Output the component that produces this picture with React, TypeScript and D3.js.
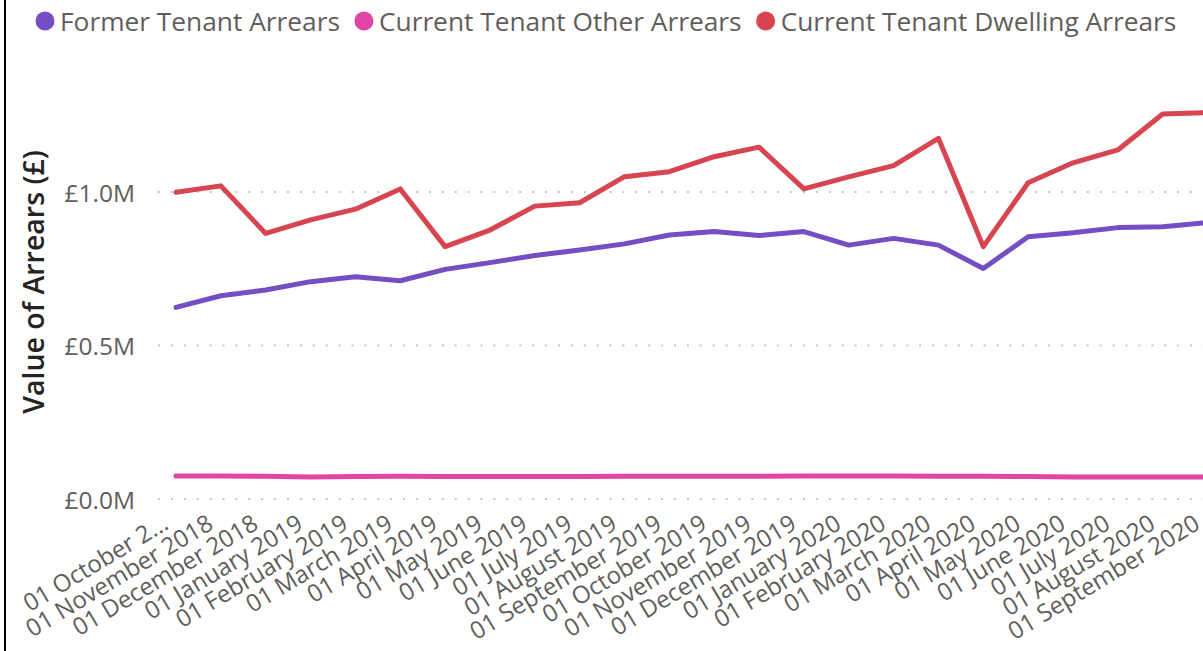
import React, { useEffect, useRef } from "react";
import * as d3 from "d3";

const months: string[] = [
  "01 October 2018", "01 November 2018", "01 December 2018",
  "01 January 2019", "01 February 2019", "01 March 2019", "01 April 2019",
  "01 May 2019", "01 June 2019", "01 July 2019", "01 August 2019",
  "01 September 2019", "01 October 2019", "01 November 2019", "01 December 2019",
  "01 January 2020", "01 February 2020", "01 March 2020", "01 April 2020",
  "01 May 2020", "01 June 2020", "01 July 2020", "01 August 2020", "01 September 2020",
];

const formerTenant: number[] = [
  624000, 662000, 681000, 708000, 724000, 711000, 748000, 770000, 793000, 811000,
  831000, 860000, 871000, 858000, 871000, 827000, 849000, 827000, 751000, 854000,
  867000, 884000, 887000, 900000,
];

const currentOther: number[] = [
  75000, 75000, 74000, 72000, 73000, 74000, 73000, 73000, 73000, 73000,
  74000, 74000, 74000, 74000, 75000, 75000, 75000, 74000, 74000, 73000,
  72000, 72000, 72000, 72000,
];

const currentDwelling: number[] = [
  999000, 1020000, 865000, 909000, 944000, 1010000, 822000, 876000, 954000, 965000,
  1050000, 1066000, 1115000, 1146000, 1010000, 1049000, 1086000, 1175000, 822000, 1030000,
  1095000, 1137000, 1254000, 1259000,
];

const seriesNames: string[] = [
  "Former Tenant Arrears",
  "Current Tenant Other Arrears",
  "Current Tenant Dwelling Arrears",
];
const seriesColors: string[] = ["#744EC2", "#E044A7", "#D64550"];
const yTicks: number[] = [0, 500000, 1000000];
const yTitle = "Value of Arrears (£)";

const W = 1203;
const H = 651;
const FONT = "'Segoe UI', 'Open Sans', sans-serif";

export default function App() {
  const ref = useRef<SVGSVGElement | null>(null);

  useEffect(() => {
    const svg = d3.select(ref.current);
    svg.selectAll("*").remove();

    const step = 44.85;
    const x = d3
      .scalePoint<string>()
      .domain(months)
      .range([176, 176 + step * (months.length - 1)]);
    const y = d3.scaleLinear().domain([0, 1000000]).range([499, 192]);

    // gridlines
    const grid = svg.append("g");
    yTicks.forEach((t) => {
      grid
        .append("line")
        .attr("x1", 158)
        .attr("x2", W + 20)
        .attr("y1", y(t))
        .attr("y2", y(t))
        .attr("stroke", "#C8C6C4")
        .attr("stroke-width", 2)
        .attr("stroke-dasharray", "2,10.9");
    });

    // y tick labels
    svg
      .append("g")
      .selectAll("text")
      .data(yTicks)
      .join("text")
      .attr("x", 135)
      .attr("y", (d) => y(d))
      .attr("text-anchor", "end")
      .attr("dominant-baseline", "central")
      .attr("font-family", FONT)
      .attr("font-size", 24.5)
      .attr("fill", "#605E5C")
      .text((d) => "£" + (d / 1e6).toFixed(1) + "M");

    // y title
    svg
      .append("text")
      .attr("transform", `translate(33,282) rotate(-90)`)
      .attr("text-anchor", "middle")
      .attr("dominant-baseline", "central")
      .attr("font-family", FONT)
      .attr("font-weight", 600)
      .attr("font-size", 28.5)
      .attr("fill", "#252423")
      .text(yTitle);

    // x labels
    const angle = 31;
    const cosA = Math.cos((angle * Math.PI) / 180);
    const xl = svg.append("g");
    months.forEach((m) => {
      const ax = (x(m) as number) - 6;
      const ay = 528;
      const t = xl
        .append("text")
        .attr("transform", `translate(${ax},${ay}) rotate(${-angle})`)
        .attr("text-anchor", "end")
        .attr("font-family", FONT)
        .attr("font-size", 24)
        .attr("fill", "#605E5C")
        .text(m);
      const node = t.node() as SVGTextElement;
      let len = node.getComputedTextLength();
      if (ax - len * cosA < 18) {
        let s = m;
        while (s.length > 1) {
          s = s.slice(0, -1).trimEnd();
          t.text(s + "...");
          len = node.getComputedTextLength();
          if (ax - len * cosA >= 18) break;
        }
      }
    });

    // lines
    const allSeries = [formerTenant, currentOther, currentDwelling];
    const line = d3
      .line<number>()
      .x((_, i) => x(months[i]) as number)
      .y((d) => y(d));
    const order = [1, 0, 2];
    order.forEach((si) => {
      svg
        .append("path")
        .datum(allSeries[si])
        .attr("d", line)
        .attr("fill", "none")
        .attr("stroke", seriesColors[si])
        .attr("stroke-width", 5)
        .attr("stroke-linejoin", "round")
        .attr("stroke-linecap", "round");
    });

    // legend
    const lg = svg.append("g");
    let cx = 45;
    seriesNames.forEach((name, i) => {
      lg.append("circle")
        .attr("cx", cx)
        .attr("cy", 21)
        .attr("r", 9.5)
        .attr("fill", seriesColors[i]);
      const t = lg
        .append("text")
        .attr("x", cx + 15)
        .attr("y", 21)
        .attr("dominant-baseline", "central")
        .attr("font-family", FONT)
        .attr("font-size", 26.3)
        .attr("fill", "#605E5C")
        .text(name);
      const len = (t.node() as SVGTextElement).getComputedTextLength();
      cx = cx + 15 + len + 24;
    });

    // left border
    svg
      .append("line")
      .attr("x1", 5)
      .attr("x2", 5)
      .attr("y1", 0)
      .attr("y2", H)
      .attr("stroke", "#000")
      .attr("stroke-width", 2);
  }, []);

  return (
    <div
      style={{
        position: "absolute",
        left: 0,
        top: 0,
        width: W,
        height: H,
        overflow: "hidden",
        background: "#fff",
      }}
    >
      <svg ref={ref} width={W} height={H} style={{ display: "block" }} />
    </div>
  );
}
